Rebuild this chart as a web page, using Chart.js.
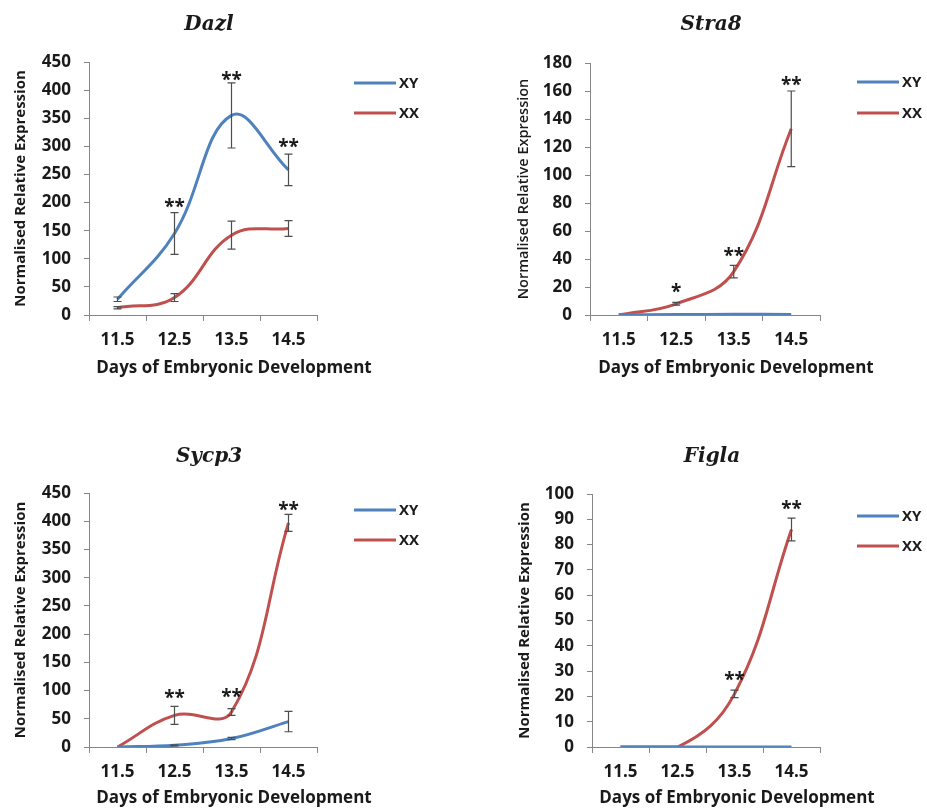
<!DOCTYPE html>
<html><head><meta charset="utf-8">
<script src="https://cdn.jsdelivr.net/npm/chart.js@4/dist/chart.umd.min.js"></script>
<style>
html,body{margin:0;padding:0;background:#fff;width:927px;height:810px;overflow:hidden}
.p{position:absolute;width:467px;height:380px}
canvas{display:block}
</style></head><body>
<div class="p" style="left:0;top:0"><canvas id="c1" width="467" height="380"></canvas></div>
<div class="p" style="left:460px;top:0"><canvas id="c2" width="467" height="380"></canvas></div>
<div class="p" style="left:0;top:430px"><canvas id="c3" width="467" height="380"></canvas></div>
<div class="p" style="left:460px;top:430px"><canvas id="c4" width="467" height="380"></canvas></div>
<script>
// ---- data ----
const days = ['11.5', '12.5', '13.5', '14.5'];
const seriesNames = ['XY', 'XX'];
const xTitle = 'Days of Embryonic Development';
const yTitle = 'Normalised Relative Expression';

const dazlXY = [28, 145, 355, 258];
const dazlXYErr = [4, 37, 58, 28];
const dazlXX = [13, 31, 142, 154];
const dazlXXErr = [2, 7, 25, 14];
const dazlStars = ['', '**', '**', '**'];
const dazlStarAt = [null, 201, 427, 308];
const dazlTicks = { max: 450, step: 50 };

const stra8XY = [0.2, 0.3, 0.5, 0.4];
const stra8XYErr = [0, 0, 0, 0];
const stra8XX = [0, 8, 31, 133];
const stra8XXErr = [0, 1, 4.5, 27];
const stra8Stars = ['', '*', '**', '**'];
const stra8StarAt = [null, 20, 46, 168];
const stra8Ticks = { max: 180, step: 20 };

const sycp3XY = [0, 3, 15, 45];
const sycp3XYErr = [0, 1, 2, 18];
const sycp3XX = [0, 56, 62, 397];
const sycp3XXErr = [0, 16, 6, 15];
const sycp3Stars = ['', '**', '**', '**'];
const sycp3StarAt = [null, 96, 97, 429];
const sycp3Ticks = { max: 450, step: 50 };

const figlaXY = [0, 0, 0, 0];
const figlaXYErr = [0, 0, 0, 0];
const figlaXX = [0, 0, 21, 86];
const figlaXXErr = [0, 0, 1.5, 4.5];
const figlaStars = ['', '', '**', '**'];
const figlaStarAt = [null, null, 28.5, 96];
const figlaTicks = { max: 100, step: 10 };

// ---- style ----
const BLUE = '#4F81BD';
const RED = '#C0504D';
const AXIS = '#868686';
const TXT = '#1a1a1a';
const SANS = '"Open Sans", "Liberation Sans", sans-serif';

const decor = {
  id: 'decor',
  afterDatasetsDraw(chart, args, o) {
    const ctx = chart.ctx, ca = chart.chartArea;
    const xs = chart.scales.x, ys = chart.scales.y;
    ctx.save();
    // error bars
    ctx.strokeStyle = '#4d4d4d';
    ctx.lineWidth = 1.2;
    chart.data.datasets.forEach(ds => {
      ds.data.forEach((v, i) => {
        const e = ds.err[i];
        if (!e) return;
        const x = xs.getPixelForValue(i);
        const y1 = ys.getPixelForValue(v - e), y2 = ys.getPixelForValue(v + e);
        ctx.beginPath();
        ctx.moveTo(x, y1); ctx.lineTo(x, y2);
        ctx.moveTo(x - 4, y1); ctx.lineTo(x + 4, y1);
        ctx.moveTo(x - 4, y2); ctx.lineTo(x + 4, y2);
        ctx.stroke();
      });
    });
    // significance stars
    ctx.fillStyle = TXT;
    ctx.font = 'bold 19px ' + SANS;
    ctx.textAlign = 'center';
    ctx.textBaseline = 'alphabetic';
    o.stars.forEach((s, i) => {
      if (!s) return;
      ctx.fillText(s, xs.getPixelForValue(i), ys.getPixelForValue(o.starAt[i]) + 11);
    });
    // title
    ctx.font = 'bold italic 20px "DejaVu Serif", serif';
    ctx.textBaseline = 'middle';
    ctx.fillText(o.title, (ca.left + ca.right) / 2 + 6, o.titleY);
    // x title
    ctx.font = 'bold 17px ' + SANS;
    ctx.fillText(xTitle, (ca.left + ca.right) / 2 + 31, 368);
    // legend
    chart.data.datasets.forEach((ds, k) => {
      const y = ca.top + o.legendY[k];
      ctx.strokeStyle = ds.borderColor;
      ctx.lineWidth = 3;
      ctx.beginPath();
      ctx.moveTo(ca.right + 37, y); ctx.lineTo(ca.right + 79, y);
      ctx.stroke();
      ctx.fillStyle = TXT;
      ctx.font = 'bold 15px ' + SANS;
      ctx.textAlign = 'left';
      ctx.fillText(ds.label, ca.right + 82, y + 1);
    });
    ctx.restore();
  }
};

function panel(id, title, xy, xyErr, xx, xxErr, stars, starAt, tk, L) {
  return new Chart(document.getElementById(id), {
    type: 'line',
    data: {
      labels: days,
      datasets: [
        { label: seriesNames[0], data: xy, err: xyErr, borderColor: BLUE, backgroundColor: BLUE,
          borderWidth: 3, pointRadius: 0, pointHoverRadius: 0, tension: 0.4, fill: false },
        { label: seriesNames[1], data: xx, err: xxErr, borderColor: RED, backgroundColor: RED,
          borderWidth: 3, pointRadius: 0, pointHoverRadius: 0, tension: 0.4, fill: false }
      ]
    },
    options: {
      responsive: false,
      animation: false,
      events: [],
      devicePixelRatio: 1,
      layout: { padding: { left: L.padLeft, top: L.top, right: 467 - L.right, bottom: 0 } },
      plugins: {
        legend: { display: false },
        tooltip: { enabled: false },
        title: { display: false },
        decor: { title: title, titleY: L.titleY, stars: stars, starAt: starAt, legendY: L.legendY }
      },
      scales: {
        x: {
          type: 'category',
          offset: true,
          grid: { offset: true, drawOnChartArea: false, tickLength: 6, color: AXIS, lineWidth: 1 },
          border: { color: AXIS, width: 1 },
          ticks: { color: TXT, font: { family: SANS, size: 17, weight: 'bold' }, padding: 9, maxRotation: 0 },
          afterFit: s => { s.height = 380 - L.bottom; }
        },
        y: {
          min: 0, max: tk.max,
          grid: { drawOnChartArea: false, tickLength: 5, color: AXIS, lineWidth: 1 },
          border: { color: AXIS, width: 1 },
          ticks: { stepSize: tk.step, color: TXT, font: { family: SANS, size: 17, weight: 'bold' }, padding: 13 },
          title: { display: true, text: yTitle, color: TXT,
                   font: { family: SANS, size: L.yFont, weight: L.yWeight }, padding: { top: 12, bottom: 0 } },
          afterFit: s => { s.width = L.axisX - L.padLeft; }
        }
      }
    },
    plugins: [decor]
  });
}

panel('c1', 'Dazl', dazlXY, dazlXYErr, dazlXX, dazlXXErr, dazlStars, dazlStarAt, dazlTicks,
  { padLeft: 0, axisX: 89, top: 62, right: 317, bottom: 315, titleY: 25, legendY: [21, 51], yFont: 15, yWeight: 'bold' });
panel('c2', 'Stra8', stra8XY, stra8XYErr, stra8XX, stra8XXErr, stra8Stars, stra8StarAt, stra8Ticks,
  { padLeft: 43, axisX: 130, top: 63, right: 360, bottom: 315, titleY: 25, legendY: [19, 50], yFont: 14.5, yWeight: '600' });
panel('c3', 'Sycp3', sycp3XY, sycp3XYErr, sycp3XX, sycp3XXErr, sycp3Stars, sycp3StarAt, sycp3Ticks,
  { padLeft: 0, axisX: 89, top: 63, right: 317, bottom: 317, titleY: 27, legendY: [17, 47], yFont: 15, yWeight: 'bold' });
panel('c4', 'Figla', figlaXY, figlaXYErr, figlaXX, figlaXXErr, figlaStars, figlaStarAt, figlaTicks,
  { padLeft: 44, axisX: 132, top: 64, right: 360, bottom: 317, titleY: 27, legendY: [22, 52], yFont: 15, yWeight: 'bold' });
</script>
</body></html>
